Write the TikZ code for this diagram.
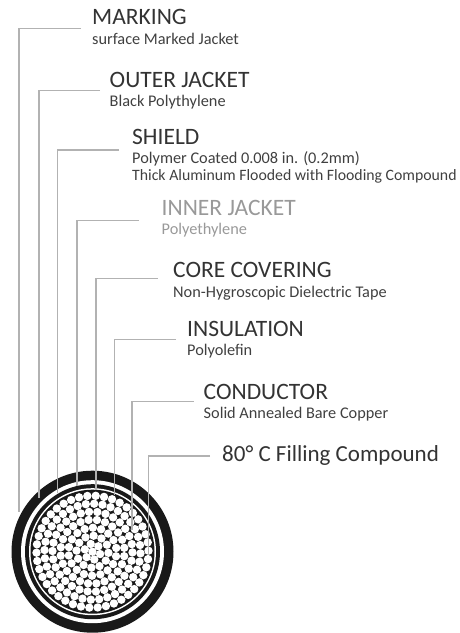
\documentclass[tikz,border=0pt]{standalone}
\usepackage{fontspec}
\setmainfont{Carlito}
\begin{document}
\begin{tikzpicture}[
                x=1pt,
                y=-1pt,
                leader/.style={draw=black!30, line width=1.2pt},
                heading/.style={anchor=base west, inner sep=0pt, text=black!80, font=\fontsize{23.5}{23.5}\selectfont},
                detail/.style={anchor=base west, inner sep=0pt, text=black!75, font=\fontsize{16.3}{16.3}\selectfont}
            ]
            \useasboundingbox (0,0) rectangle (460,633);

            % 电缆外层
            \coordinate (core) at (92.5,551.7);
            \fill[black!90] (core) circle (81);
            \fill[white] (core) circle (71.5);
            \fill[black!90] (core) circle (67.5);
            \fill[white] (core) circle (63.5);
            \fill[black!90] (core) circle (62);

            % 绞合导体
            \fill[white] (core) circle (4.2);
            \foreach \layer in {1,...,7} {
                \pgfmathtruncatemacro{\strands}{6*\layer}
                \foreach \k in {1,...,\strands} {
                    \fill[white, shift={(core)}] ({17*\layer+360*\k/\strands}:{8*\layer}) circle (4.2);
                }
            }

            % 文字
            \node[heading] (marking) at (92,24) {MARKING};
            \node[detail] (markingdetail) at (92,44) {surface Marked Jacket};
            \node[heading] (outer) at (109.5,87) {OUTER JACKET};
            \node[detail] (outerdetail) at (109.5,106) {Black Polythylene};
            \node[heading] (shield) at (132,144) {SHIELD};
            \node[detail] (shielddetail) at (132,163.3) {Polymer Coated 0.008 in. (0.2mm)};
            \node[detail, font=\fontsize{15.8}{15.8}\selectfont] (shieldmore) at (132,180) {Thick Aluminum Flooded with Flooding Compound};
            \node[heading, text=black!40] (inner) at (161.5,215.5) {INNER JACKET};
            \node[detail, text=black!40] (innerdetail) at (161.5,234.5) {Polyethylene};
            \node[heading] (covering) at (173,277) {CORE COVERING};
            \node[detail] (coveringdetail) at (173,297) {Non-Hygroscopic Dielectric Tape};
            \node[heading] (insulation) at (187,336) {INSULATION};
            \node[detail] (insulationdetail) at (187,355) {Polyolefin};
            \node[heading] (conductor) at (203.5,399) {CONDUCTOR};
            \node[detail] (conductordetail) at (203.5,418) {Solid Annealed Bare Copper};
            \node[heading, font=\fontsize{23}{23}\selectfont] (filling) at (222,461.7) {80° C Filling Compound};

            % 引线
            \coordinate (markingstart) at (81,28.5);
            \coordinate (markingend) at (19,511.7);
            \draw[leader] (markingstart) -| (markingend);
            \coordinate (outerstart) at (100,90.5);
            \coordinate (outerend) at (39,498);
            \draw[leader] (outerstart) -| (outerend);
            \coordinate (shieldstart) at (119,150);
            \coordinate (shieldend) at (57.5,493);
            \draw[leader] (shieldstart) -| (shieldend);
            \coordinate (innerstart) at (138.7,220.7);
            \coordinate (innerend) at (77,486);
            \draw[leader] (innerstart) -| (innerend);
            \coordinate (coveringstart) at (157.7,278.3);
            \coordinate (coveringend) at (96,490);
            \draw[leader] (coveringstart) -| (coveringend);
            \coordinate (insulationstart) at (176,339.3);
            \coordinate (insulationend) at (114.7,495);
            \draw[leader] (insulationstart) -| (insulationend);
            \coordinate (conductorstart) at (193.7,401.3);
            \coordinate (conductorend) at (132,530);
            \draw[leader] (conductorstart) -| (conductorend);
            \coordinate (fillingstart) at (210,456);
            \coordinate (fillingend) at (148.7,555);
            \draw[leader] (fillingstart) -| (fillingend);
        \end{tikzpicture}
\end{document}
